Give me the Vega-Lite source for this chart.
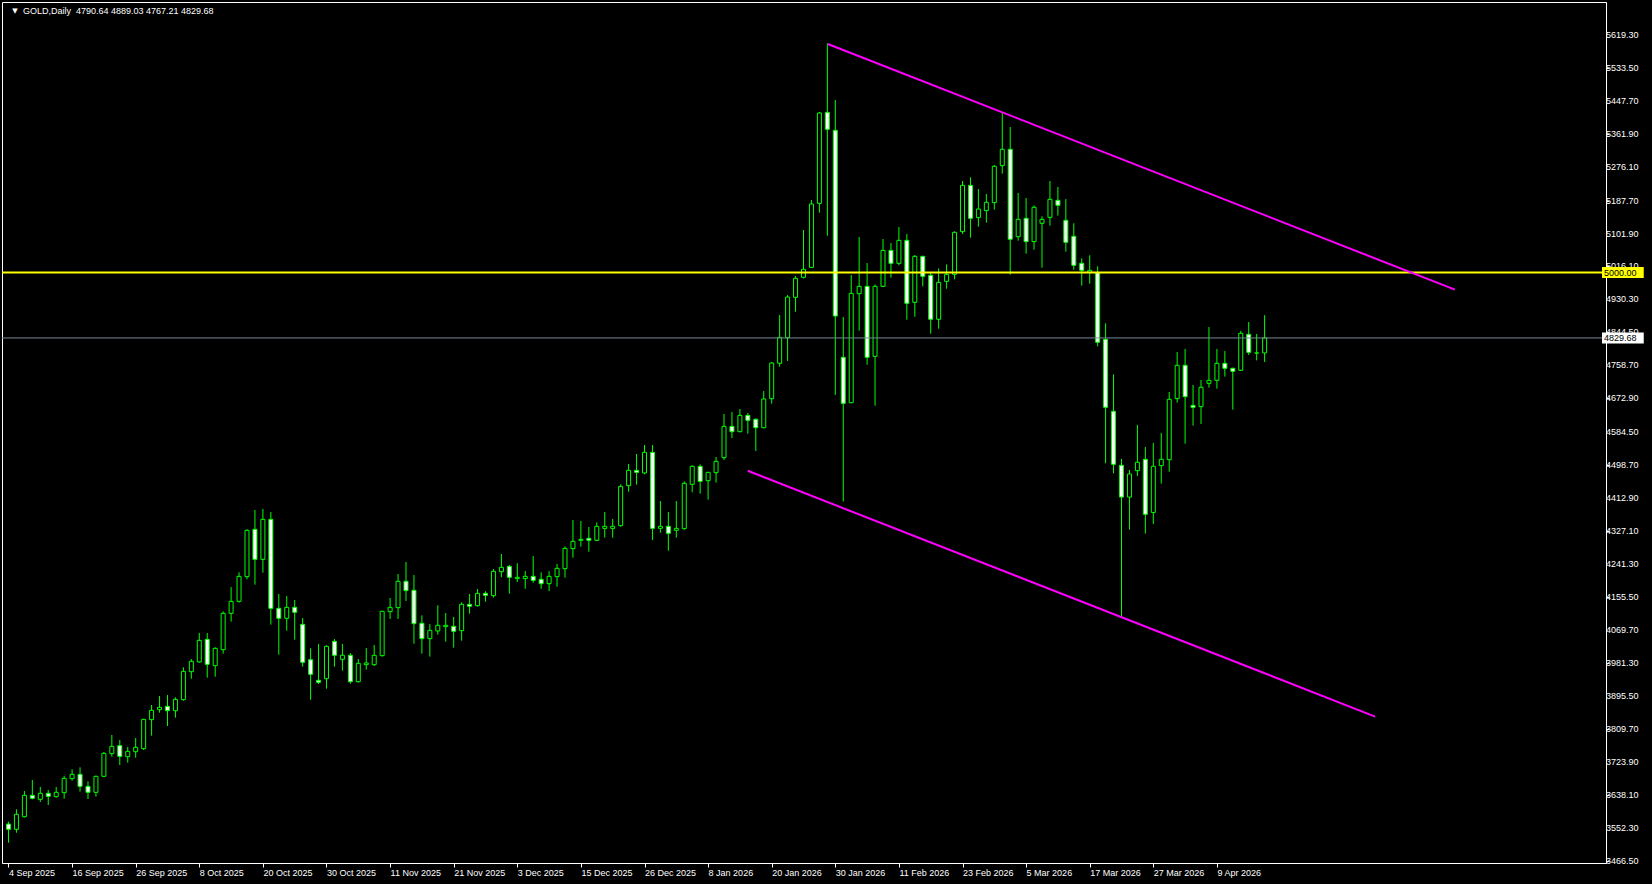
{
  "$schema": "https://vega.github.io/schema/vega-lite/v6.json",
  "width": 1604,
  "height": 861,
  "autosize": {"type": "none"},
  "padding": {"left": 2, "top": 2, "right": 46, "bottom": 21},
  "background": "#000000",
  "config": {
    "view": {"stroke": "#ffffff", "strokeWidth": 1, "fill": "#000000"},
    "font": "Liberation Sans",
    "axis": {"domainColor": "#ffffff", "tickColor": "#ffffff", "labelColor": "#ffffff", "labelFont": "Liberation Sans", "labelFontSize": 9, "grid": false, "title": null, "zindex": 0, "labelOverlap": false, "labelFlush": false, "labelBound": false}
  },
  "datasets": {
    "candles": [
      {"i":0,"o":3562.9,"h":3569.0,"l":3514.3,"c":3549.0},
      {"i":1,"o":3549.0,"h":3601.2,"l":3540.3,"c":3588.1},
      {"i":2,"o":3582.0,"h":3648.9,"l":3580.0,"c":3637.6},
      {"i":3,"o":3637.6,"h":3677.6,"l":3627.2,"c":3629.8},
      {"i":4,"o":3627.2,"h":3659.4,"l":3620.3,"c":3642.9},
      {"i":5,"o":3642.9,"h":3651.5,"l":3612.4,"c":3635.0},
      {"i":6,"o":3634.2,"h":3659.4,"l":3631.6,"c":3645.5},
      {"i":7,"o":3644.6,"h":3688.0,"l":3629.0,"c":3681.9},
      {"i":8,"o":3681.1,"h":3705.4,"l":3675.9,"c":3692.4},
      {"i":9,"o":3692.4,"h":3710.6,"l":3647.2,"c":3661.1},
      {"i":10,"o":3661.1,"h":3674.2,"l":3628.1,"c":3645.5},
      {"i":11,"o":3645.5,"h":3689.0,"l":3634.2,"c":3687.2},
      {"i":12,"o":3687.2,"h":3750.6,"l":3685.0,"c":3747.1},
      {"i":13,"o":3746.2,"h":3794.9,"l":3738.4,"c":3765.4},
      {"i":14,"o":3767.1,"h":3781.9,"l":3716.7,"c":3739.3},
      {"i":15,"o":3738.4,"h":3763.6,"l":3722.8,"c":3752.3},
      {"i":16,"o":3751.4,"h":3787.1,"l":3735.8,"c":3762.8},
      {"i":17,"o":3759.3,"h":3837.0,"l":3755.8,"c":3835.7},
      {"i":18,"o":3834.9,"h":3873.1,"l":3793.2,"c":3859.2},
      {"i":19,"o":3860.9,"h":3896.5,"l":3853.1,"c":3867.0},
      {"i":20,"o":3869.6,"h":3899.1,"l":3818.4,"c":3858.3},
      {"i":21,"o":3858.3,"h":3893.1,"l":3840.1,"c":3887.8},
      {"i":22,"o":3887.0,"h":3971.3,"l":3884.4,"c":3960.8},
      {"i":23,"o":3959.9,"h":3993.0,"l":3941.7,"c":3986.9},
      {"i":24,"o":3985.2,"h":4060.7,"l":3983.4,"c":4041.6},
      {"i":25,"o":4044.2,"h":4060.7,"l":3944.3,"c":3979.1},
      {"i":26,"o":3975.6,"h":4023.4,"l":3946.9,"c":4020.8},
      {"i":27,"o":4017.3,"h":4117.2,"l":4006.9,"c":4112.0},
      {"i":28,"o":4112.0,"h":4180.6,"l":4090.3,"c":4143.3},
      {"i":29,"o":4143.3,"h":4218.9,"l":4139.8,"c":4208.4},
      {"i":30,"o":4207.6,"h":4330.9,"l":4200.6,"c":4328.3},
      {"i":31,"o":4330.9,"h":4381.3,"l":4186.7,"c":4252.7},
      {"i":32,"o":4252.7,"h":4383.9,"l":4218.0,"c":4357.0},
      {"i":33,"o":4357.0,"h":4376.1,"l":4082.5,"c":4125.0},
      {"i":34,"o":4125.0,"h":4162.4,"l":4004.3,"c":4099.0},
      {"i":35,"o":4099.0,"h":4157.2,"l":4066.8,"c":4127.6},
      {"i":36,"o":4127.6,"h":4146.7,"l":4043.4,"c":4114.6},
      {"i":37,"o":4083.3,"h":4099.8,"l":3973.0,"c":3984.3},
      {"i":38,"o":3991.2,"h":4020.8,"l":3887.0,"c":3953.0},
      {"i":39,"o":3937.4,"h":4032.1,"l":3927.8,"c":3932.2},
      {"i":40,"o":3941.7,"h":4028.6,"l":3915.7,"c":4026.0},
      {"i":41,"o":4039.0,"h":4045.1,"l":3973.0,"c":4002.6},
      {"i":42,"o":3992.1,"h":4032.1,"l":3962.6,"c":4002.6},
      {"i":43,"o":4002.6,"h":4008.6,"l":3928.7,"c":3933.9},
      {"i":44,"o":3933.9,"h":3993.0,"l":3931.3,"c":3981.7},
      {"i":45,"o":3978.2,"h":4021.7,"l":3965.2,"c":3982.6},
      {"i":46,"o":3978.2,"h":4029.5,"l":3974.7,"c":4002.6},
      {"i":47,"o":4001.7,"h":4118.5,"l":3999.1,"c":4117.2},
      {"i":48,"o":4116.4,"h":4152.0,"l":4097.3,"c":4127.6},
      {"i":49,"o":4126.8,"h":4214.5,"l":4097.3,"c":4195.4},
      {"i":50,"o":4195.4,"h":4245.8,"l":4144.2,"c":4171.1},
      {"i":51,"o":4172.0,"h":4211.9,"l":4032.9,"c":4085.1},
      {"i":52,"o":4086.0,"h":4106.8,"l":4006.9,"c":4046.0},
      {"i":53,"o":4046.0,"h":4084.2,"l":3999.1,"c":4067.7},
      {"i":54,"o":4066.0,"h":4132.9,"l":4056.4,"c":4080.8},
      {"i":55,"o":4077.3,"h":4112.9,"l":4038.2,"c":4080.8},
      {"i":56,"o":4078.1,"h":4102.5,"l":4022.5,"c":4065.1},
      {"i":57,"o":4066.8,"h":4140.7,"l":4040.8,"c":4135.5},
      {"i":58,"o":4135.5,"h":4162.4,"l":4111.1,"c":4130.3},
      {"i":59,"o":4132.0,"h":4175.4,"l":4129.4,"c":4164.1},
      {"i":60,"o":4164.1,"h":4169.4,"l":4142.4,"c":4158.9},
      {"i":61,"o":4158.1,"h":4227.6,"l":4152.9,"c":4221.5},
      {"i":62,"o":4220.6,"h":4266.6,"l":4205.8,"c":4231.9},
      {"i":63,"o":4234.5,"h":4238.0,"l":4163.3,"c":4205.8},
      {"i":64,"o":4202.4,"h":4242.3,"l":4193.7,"c":4205.8},
      {"i":65,"o":4202.4,"h":4222.4,"l":4176.3,"c":4208.4},
      {"i":66,"o":4208.4,"h":4261.4,"l":4191.9,"c":4198.0},
      {"i":67,"o":4200.6,"h":4218.9,"l":4176.3,"c":4189.3},
      {"i":68,"o":4189.3,"h":4221.5,"l":4170.2,"c":4208.4},
      {"i":69,"o":4207.6,"h":4240.6,"l":4181.5,"c":4229.3},
      {"i":70,"o":4228.4,"h":4286.6,"l":4205.0,"c":4281.4},
      {"i":71,"o":4280.6,"h":4355.3,"l":4257.1,"c":4299.7},
      {"i":72,"o":4302.3,"h":4352.7,"l":4285.8,"c":4304.9},
      {"i":73,"o":4307.5,"h":4337.0,"l":4272.7,"c":4302.3},
      {"i":74,"o":4302.3,"h":4349.2,"l":4300.0,"c":4338.8},
      {"i":75,"o":4333.5,"h":4376.1,"l":4309.2,"c":4338.8},
      {"i":76,"o":4333.5,"h":4357.9,"l":4309.2,"c":4338.8},
      {"i":77,"o":4340.5,"h":4448.2,"l":4337.9,"c":4443.0},
      {"i":78,"o":4444.8,"h":4501.2,"l":4429.1,"c":4484.7},
      {"i":79,"o":4484.7,"h":4527.3,"l":4447.4,"c":4479.5},
      {"i":80,"o":4477.8,"h":4550.7,"l":4474.3,"c":4531.6},
      {"i":81,"o":4531.6,"h":4550.7,"l":4303.1,"c":4333.5},
      {"i":82,"o":4333.5,"h":4404.8,"l":4322.3,"c":4338.8},
      {"i":83,"o":4338.8,"h":4376.1,"l":4275.3,"c":4320.5},
      {"i":84,"o":4328.3,"h":4404.8,"l":4309.2,"c":4333.5},
      {"i":85,"o":4332.7,"h":4456.0,"l":4330.0,"c":4450.8},
      {"i":86,"o":4448.2,"h":4497.7,"l":4427.4,"c":4495.1},
      {"i":87,"o":4495.1,"h":4500.4,"l":4423.9,"c":4456.0},
      {"i":88,"o":4457.8,"h":4480.5,"l":4408.3,"c":4479.5},
      {"i":89,"o":4478.6,"h":4519.5,"l":4452.6,"c":4508.2},
      {"i":90,"o":4517.7,"h":4631.5,"l":4511.6,"c":4599.3},
      {"i":91,"o":4599.3,"h":4636.7,"l":4568.9,"c":4585.4},
      {"i":92,"o":4585.4,"h":4644.5,"l":4584.0,"c":4628.0},
      {"i":93,"o":4628.0,"h":4634.1,"l":4580.2,"c":4615.0},
      {"i":94,"o":4617.6,"h":4620.2,"l":4535.0,"c":4595.8},
      {"i":95,"o":4595.8,"h":4691.4,"l":4594.0,"c":4670.6},
      {"i":96,"o":4671.4,"h":4767.0,"l":4658.4,"c":4764.4},
      {"i":97,"o":4763.6,"h":4889.5,"l":4754.8,"c":4831.3},
      {"i":98,"o":4830.4,"h":4941.6,"l":4769.6,"c":4936.4},
      {"i":99,"o":4935.5,"h":4991.1,"l":4898.2,"c":4985.1},
      {"i":100,"o":4987.7,"h":5111.0,"l":4985.0,"c":5008.5},
      {"i":101,"o":5013.7,"h":5189.2,"l":5012.0,"c":5178.8},
      {"i":102,"o":5180.5,"h":5418.6,"l":5156.2,"c":5416.0},
      {"i":103,"o":5417.7,"h":5597.6,"l":5096.3,"c":5373.4},
      {"i":104,"o":5370.8,"h":5449.9,"l":4681.0,"c":4886.9},
      {"i":105,"o":4779.2,"h":4884.3,"l":4403.5,"c":4659.3},
      {"i":106,"o":4661.0,"h":4993.8,"l":4659.3,"c":4946.0},
      {"i":107,"o":4945.1,"h":5092.8,"l":4848.7,"c":4964.2},
      {"i":108,"o":4964.2,"h":5025.0,"l":4760.1,"c":4779.2},
      {"i":109,"o":4781.8,"h":4969.4,"l":4653.2,"c":4964.2},
      {"i":110,"o":4964.2,"h":5087.6,"l":4962.0,"c":5058.0},
      {"i":111,"o":5058.0,"h":5077.2,"l":4986.8,"c":5024.2},
      {"i":112,"o":5024.2,"h":5118.9,"l":5019.0,"c":5084.1},
      {"i":113,"o":5084.1,"h":5100.6,"l":4877.3,"c":4919.9},
      {"i":114,"o":4922.5,"h":5045.9,"l":4885.2,"c":5042.4},
      {"i":115,"o":5042.4,"h":5044.0,"l":4964.2,"c":4990.3},
      {"i":116,"o":4992.9,"h":5000.7,"l":4840.9,"c":4878.2},
      {"i":117,"o":4878.2,"h":5011.1,"l":4853.9,"c":4974.6},
      {"i":118,"o":4977.2,"h":5021.6,"l":4958.1,"c":4995.5},
      {"i":119,"o":4995.5,"h":5107.6,"l":4982.5,"c":5105.0},
      {"i":120,"o":5106.8,"h":5238.8,"l":5100.7,"c":5227.5},
      {"i":121,"o":5227.5,"h":5248.4,"l":5091.1,"c":5141.5},
      {"i":122,"o":5143.3,"h":5218.0,"l":5119.8,"c":5165.8},
      {"i":123,"o":5161.5,"h":5205.0,"l":5130.2,"c":5183.2},
      {"i":124,"o":5182.4,"h":5280.5,"l":5164.1,"c":5277.1},
      {"i":125,"o":5278.8,"h":5417.8,"l":5257.9,"c":5321.4},
      {"i":126,"o":5321.4,"h":5379.6,"l":4994.7,"c":5086.8},
      {"i":127,"o":5093.7,"h":5207.5,"l":5083.3,"c":5138.9},
      {"i":128,"o":5141.5,"h":5194.5,"l":5049.4,"c":5080.7},
      {"i":129,"o":5080.7,"h":5175.4,"l":5059.9,"c":5170.2},
      {"i":130,"o":5128.5,"h":5146.7,"l":5012.9,"c":5138.9},
      {"i":131,"o":5144.1,"h":5238.8,"l":5122.4,"c":5191.0},
      {"i":132,"o":5188.4,"h":5223.2,"l":5148.5,"c":5175.4},
      {"i":133,"o":5136.3,"h":5191.9,"l":5054.6,"c":5079.0},
      {"i":134,"o":5094.6,"h":5128.5,"l":5007.7,"c":5019.0},
      {"i":135,"o":5024.2,"h":5037.3,"l":4966.0,"c":5006.0},
      {"i":136,"o":5000.8,"h":5045.1,"l":4971.3,"c":5006.0},
      {"i":137,"o":4999.9,"h":5016.4,"l":4807.9,"c":4818.4},
      {"i":138,"o":4826.2,"h":4867.9,"l":4503.0,"c":4648.9},
      {"i":139,"o":4638.5,"h":4734.9,"l":4476.9,"c":4500.4},
      {"i":140,"o":4497.8,"h":4514.3,"l":4102.0,"c":4415.0},
      {"i":141,"o":4415.0,"h":4485.6,"l":4330.0,"c":4475.2},
      {"i":142,"o":4483.9,"h":4602.9,"l":4470.0,"c":4505.6},
      {"i":143,"o":4513.4,"h":4545.6,"l":4320.0,"c":4370.0},
      {"i":144,"o":4375.0,"h":4556.0,"l":4345.0,"c":4495.2},
      {"i":145,"o":4496.9,"h":4582.0,"l":4450.0,"c":4513.4},
      {"i":146,"o":4512.5,"h":4688.9,"l":4481.3,"c":4669.8},
      {"i":147,"o":4671.5,"h":4793.1,"l":4661.1,"c":4758.4},
      {"i":148,"o":4758.4,"h":4801.0,"l":4554.2,"c":4676.7},
      {"i":149,"o":4654.1,"h":4707.1,"l":4601.1,"c":4648.9},
      {"i":150,"o":4650.7,"h":4720.2,"l":4605.5,"c":4701.1},
      {"i":151,"o":4711.5,"h":4858.3,"l":4700.2,"c":4719.3},
      {"i":152,"o":4719.3,"h":4801.0,"l":4697.6,"c":4763.6},
      {"i":153,"o":4763.6,"h":4795.7,"l":4728.9,"c":4750.6},
      {"i":154,"o":4750.6,"h":4752.0,"l":4642.8,"c":4742.8},
      {"i":155,"o":4745.4,"h":4847.9,"l":4744.0,"c":4841.8},
      {"i":156,"o":4839.2,"h":4871.3,"l":4785.3,"c":4792.3},
      {"i":157,"o":4790.5,"h":4840.1,"l":4771.4,"c":4790.6},
      {"i":158,"o":4790.64,"h":4889.03,"l":4767.21,"c":4829.68}
    ],
    "trend": [
      {"g":"upper","i":103.06,"p":5595.8},
      {"g":"upper","i":181.94,"p":4955.5},
      {"g":"lower","i":92.98,"p":4483.5},
      {"g":"lower","i":171.9,"p":3842.9}
    ],
    "levels": [
      {"name":"level","p":5000,"label":"5000.00"},
      {"name":"bid","p":4829.68,"label":"4829.68"}
    ],
    "pricescale": [
      {"v":5619.3},{"v":5533.5},{"v":5447.7},{"v":5361.9},{"v":5276.1},{"v":5187.7},{"v":5101.9},{"v":5016.1},{"v":4930.3},{"v":4844.5},{"v":4758.7},{"v":4672.9},{"v":4584.5},{"v":4498.7},{"v":4412.9},{"v":4327.1},{"v":4241.3},{"v":4155.5},{"v":4069.7},{"v":3981.3},{"v":3895.5},{"v":3809.7},{"v":3723.9},{"v":3638.1},{"v":3552.3},{"v":3466.5}
    ],
    "header": [
      {"symbol":"GOLD,Daily","o":4790.64,"h":4889.03,"l":4767.21,"c":4829.68}
    ]
  },
  "layer": [
    {
      "data": {"name": "candles"},
      "mark": {"type": "rule", "color": "#00ff00", "strokeWidth": 1},
      "encoding": {
        "x": {"field": "i", "type": "quantitative",
          "scale": {"domain": [-0.1875, 200.3125], "nice": false, "zero": false},
          "axis": {"orient": "bottom", "values": [0,8,16,24,32,40,48,56,64,72,80,88,96,104,112,120,128,136,144,152],
            "labelExpr": "['4 Sep 2025','16 Sep 2025','26 Sep 2025','8 Oct 2025','20 Oct 2025','30 Oct 2025','11 Nov 2025','21 Nov 2025','3 Dec 2025','15 Dec 2025','26 Dec 2025','8 Jan 2026','20 Jan 2026','30 Jan 2026','11 Feb 2026','23 Feb 2026','5 Mar 2026','17 Mar 2026','27 Mar 2026','9 Apr 2026'][round(datum.value/8)]",
            "labelAlign": "left", "labelPadding": 1, "tickSize": 4}},
        "y": {"field": "l", "type": "quantitative",
          "scale": {"domain": [3461.3, 5705.3], "nice": false, "zero": false},
          "axis": {"orient": "right", "values": [5619.3,5533.5,5447.7,5361.9,5276.1,5187.7,5101.9,5016.1,4930.3,4844.5,4758.7,4672.9,4584.5,4498.7,4412.9,4327.1,4241.3,4155.5,4069.7,3981.3,3895.5,3809.7,3723.9,3638.1,3552.3,3466.5],
            "labels": false, "tickSize": 3}},
        "y2": {"field": "h"}
      }
    },
    {
      "data": {"name": "candles"},
      "mark": {"type": "bar", "stroke": "#00ff00", "strokeWidth": 1, "size": 4},
      "encoding": {
        "x": {"field": "i", "type": "quantitative"},
        "y": {"field": "o", "type": "quantitative"},
        "y2": {"field": "c"},
        "fill": {"condition": {"test": "datum.c < datum.o", "value": "#ffffff"}, "value": "#000000"}
      }
    },
    {
      "data": {"name": "levels"},
      "transform": [{"filter": "datum.name === 'bid'"}],
      "mark": {"type": "rule", "color": "#778899", "strokeWidth": 1},
      "encoding": {"y": {"field": "p", "type": "quantitative"}}
    },
    {
      "data": {"name": "levels"},
      "transform": [{"filter": "datum.name === 'level'"}],
      "mark": {"type": "rule", "color": "#ffff00", "strokeWidth": 2},
      "encoding": {"y": {"field": "p", "type": "quantitative"}}
    },
    {
      "data": {"name": "trend"},
      "mark": {"type": "line", "color": "#ff00ff", "strokeWidth": 2},
      "encoding": {
        "x": {"field": "i", "type": "quantitative"},
        "y": {"field": "p", "type": "quantitative"},
        "detail": {"field": "g"}
      }
    },
    {
      "data": {"name": "pricescale"},
      "mark": {"type": "text", "color": "#ffffff", "fontSize": 9, "align": "left", "baseline": "middle", "clip": false},
      "encoding": {
        "x": {"datum": 200.95, "type": "quantitative"},
        "y": {"field": "v", "type": "quantitative"},
        "text": {"field": "v", "format": ".2f"}
      }
    },
    {
      "data": {"name": "levels"},
      "mark": {"type": "rect", "height": 11, "clip": false},
      "encoding": {
        "x": {"datum": 200.44, "type": "quantitative"},
        "x2": {"datum": 205.69},
        "y": {"field": "p", "type": "quantitative"},
        "fill": {"condition": {"test": "datum.name === 'level'", "value": "#ffff00"}, "value": "#ffffff"}
      }
    },
    {
      "data": {"name": "levels"},
      "mark": {"type": "text", "color": "#000000", "fontSize": 9, "align": "left", "baseline": "middle", "clip": false},
      "encoding": {
        "x": {"datum": 200.69, "type": "quantitative"},
        "y": {"field": "p", "type": "quantitative"},
        "text": {"field": "label"}
      }
    },
    {
      "data": {"name": "header"},
      "mark": {"type": "text", "color": "#ffffff", "font": "DejaVu Sans", "fontSize": 7, "align": "center", "baseline": "middle"},
      "encoding": {"x": {"datum": 0.81, "type": "quantitative"}, "y": {"datum": 5682, "type": "quantitative"}, "text": {"value": "▼"}}
    },
    {
      "data": {"name": "header"},
      "mark": {"type": "text", "color": "#ffffff", "fontSize": 9, "align": "left", "baseline": "middle"},
      "encoding": {
        "x": {"datum": 1.81, "type": "quantitative"},
        "y": {"datum": 5682, "type": "quantitative"},
        "text": {"value": "GOLD,Daily\u00a0\u00a04790.64 4889.03 4767.21 4829.68"}
      }
    }
  ]
}
